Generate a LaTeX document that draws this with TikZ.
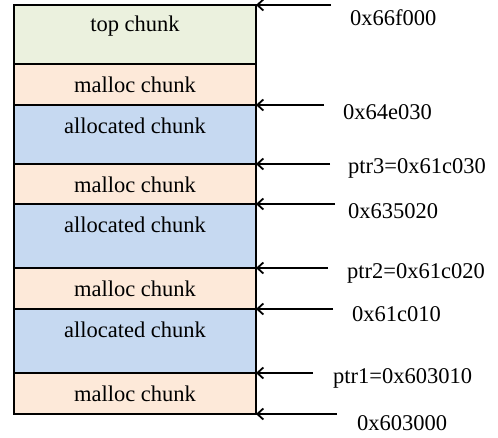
\documentclass[tikz,border=0pt]{standalone}
\usepackage{fontspec}
\setmainfont{Liberation Serif}
\usetikzlibrary{positioning, arrows.meta}

\definecolor{topgreen}{HTML}{EBF1DE}
\definecolor{mallocpeach}{HTML}{FDE9D9}
\definecolor{allocblue}{HTML}{C6D9F1}

\begin{document}
\begin{tikzpicture}[
    x=1pt, y=1pt,
    chunk/.style={draw, line width=1.3pt, rectangle, minimum width=242pt, inner sep=0pt, outer sep=0pt},
    txt/.style={font=\fontsize{22.5}{26}\selectfont, inner sep=0pt},
    addr/.style={font=\fontsize{22.5}{26}\selectfont, inner sep=0pt, anchor=west},
    ptr/.style={line width=1.8pt, -{Straight Barb[length=6pt, width=11pt, line width=1.8pt]}}
  ]

  % page frame
  \useasboundingbox (0,0) rectangle (498,-438);

  % heap chunks, top to bottom
  \node[chunk, fill=topgreen, minimum height=59pt, anchor=north west] (top) at (14,-5) {};
  \node[chunk, fill=mallocpeach, minimum height=41pt, below=0pt of top] (m4) {};
  \node[chunk, fill=allocblue, minimum height=59pt, below=0pt of m4] (a3) {};
  \node[chunk, fill=mallocpeach, minimum height=40pt, below=0pt of a3] (m3) {};
  \node[chunk, fill=allocblue, minimum height=64pt, below=0pt of m3] (a2) {};
  \node[chunk, fill=mallocpeach, minimum height=41pt, below=0pt of a2] (m2) {};
  \node[chunk, fill=allocblue, minimum height=64pt, below=0pt of m2] (a1) {};
  \node[chunk, fill=mallocpeach, minimum height=41pt, below=0pt of a1] (m1) {};

  % chunk names
  \node[txt] (ltop) at ([yshift=-21pt]top.north) {top chunk};
  \node[txt] (lm4) at ([yshift=-21pt]m4.north) {malloc chunk};
  \node[txt] (la3) at ([yshift=-21pt]a3.north) {allocated chunk};
  \node[txt] (lm3) at ([yshift=-21pt]m3.north) {malloc chunk};
  \node[txt] (la2) at ([yshift=-21pt]a2.north) {allocated chunk};
  \node[txt] (lm2) at ([yshift=-21pt]m2.north) {malloc chunk};
  \node[txt] (la1) at ([yshift=-21pt]a1.north) {allocated chunk};
  \node[txt] (lm1) at ([yshift=-21pt]m1.north) {malloc chunk};

  % arrow tails
  \coordinate (t1) at ([xshift=75pt]top.north east);
  \coordinate (t2) at ([xshift=68pt]m4.south east);
  \coordinate (t3) at ([xshift=74pt]a3.south east);
  \coordinate (t4) at ([xshift=79pt]m3.south east);
  \coordinate (t5) at ([xshift=72pt]a2.south east);
  \coordinate (t6) at ([xshift=77pt]m2.south east);
  \coordinate (t7) at ([xshift=57pt]a1.south east);
  \coordinate (t8) at ([xshift=81pt]m1.south east);

  \draw[ptr] (t1) -- (top.north east);
  \draw[ptr] (t2) -- (m4.south east);
  \draw[ptr] (t3) -- (a3.south east);
  \draw[ptr] (t4) -- (m3.south east);
  \draw[ptr] (t5) -- (a2.south east);
  \draw[ptr] (t6) -- (m2.south east);
  \draw[ptr] (t7) -- (a1.south east);
  \draw[ptr] (t8) -- (m1.south east);

  % addresses
  \node[addr] (p1) at (350,-18) {0x66f000};
  \node[addr] (p2) at (343,-112) {0x64e030};
  \node[addr] (p3) at (348,-168) {ptr3=0x61c030};
  \node[addr] (p4) at (348,-211) {0x635020};
  \node[addr] (p5) at (347,-273) {ptr2=0x61c020};
  \node[addr] (p6) at (352,-314) {0x61c010};
  \node[addr] (p7) at (333,-378) {ptr1=0x603010};
  \node[addr] (p8) at (357,-423) {0x603000};

\end{tikzpicture}
\end{document}
